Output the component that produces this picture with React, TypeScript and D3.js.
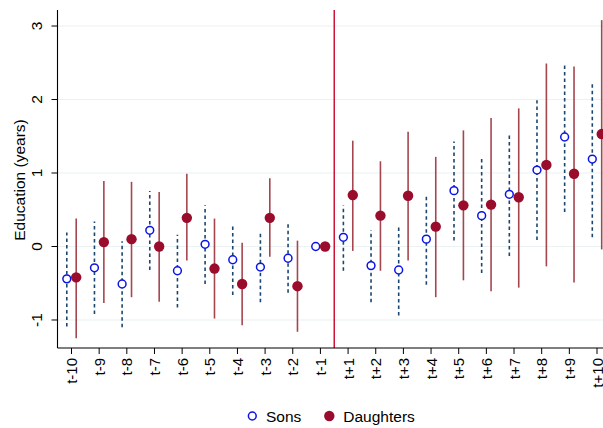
import React from "react";
import * as d3 from "d3";

const categories = [
  "t-10", "t-9", "t-8", "t-7", "t-6", "t-5", "t-4", "t-3", "t-2", "t-1",
  "t+1", "t+2", "t+3", "t+4", "t+5", "t+6", "t+7", "t+8", "t+9", "t+10",
];

// Sons: point estimate and 95% CI bounds
const sonsEst = [-0.44, -0.29, -0.51, 0.22, -0.33, 0.03, -0.18, -0.28, -0.16, 0,
  0.125, -0.26, -0.32, 0.10, 0.76, 0.42, 0.71, 1.04, 1.49, 1.19];
const sonsLo = [-1.09, -0.92, -1.10, -0.32, -0.83, -0.51, -0.66, -0.76, -0.63, 0,
  -0.33, -0.76, -0.94, -0.52, 0.08, -0.36, -0.13, 0.09, 0.47, 0.125];
const sonsHi = [0.19, 0.34, 0.07, 0.755, 0.16, 0.56, 0.30, 0.20, 0.32, 0,
  0.56, 0.22, 0.30, 0.71, 1.43, 1.19, 1.55, 1.99, 2.48, 2.23];

// Daughters: point estimate and 95% CI bounds
const dauEst = [-0.42, 0.06, 0.10, 0.0, 0.39, -0.30, -0.51, 0.39, -0.54, 0,
  0.70, 0.42, 0.69, 0.27, 0.56, 0.57, 0.67, 1.11, 0.99, 1.53];
const dauLo = [-1.25, -0.77, -0.69, -0.75, -0.19, -0.98, -1.07, -0.14, -1.16, 0,
  -0.06, -0.33, -0.19, -0.69, -0.46, -0.61, -0.56, -0.27, -0.49, -0.04];
const dauHi = [0.38, 0.89, 0.88, 0.74, 0.99, 0.38, 0.05, 0.93, 0.08, 0,
  1.44, 1.16, 1.56, 1.22, 1.58, 1.75, 1.88, 2.49, 2.45, 3.08];

const yTicks = [-1, 0, 1, 2, 3];

const W = 603;
const H = 428;
const left = 57.5;
const top = 10;
const bottom = 348;

const FONT = "'Liberation Sans', Arial, sans-serif";
const SON_LINE = "#1a476f";
const SON_MARK = "#0a14e6";
const DAU_LINE = "#a5464f";
const DAU_MARK = "#990c2c";
const REF_LINE = "#cc1439";
const GRID = "#eaf2f3";

export default function App() {
  const x = d3.scalePoint<string>().domain(categories).range([71.5, 597]);
  const y = d3.scaleLinear().domain([-1.381, 3.218]).range([bottom, top]);
  const off = 4.7;
  const refX = ((x("t-1") as number) + (x("t+1") as number)) / 2;

  return (
    <svg width={W} height={H} style={{ position: "absolute", left: 0, top: 0, background: "#fff" }}>
      <rect x={0} y={0} width={W} height={H} fill="#fff" />
      {/* gridlines */}
      {yTicks.map((t) => (
        <line key={"g" + t} x1={left} x2={W} y1={y(t)} y2={y(t)} stroke={GRID} strokeWidth={1.2} />
      ))}
      {/* reference line between t-1 and t+1 */}
      <line x1={refX} x2={refX} y1={top} y2={bottom} stroke={REF_LINE} strokeWidth={1.5} />

      {/* sons CIs */}
      {categories.map((c, i) =>
        sonsLo[i] === sonsHi[i] ? null : (
          <line key={"sl" + c} x1={(x(c) as number) - off} x2={(x(c) as number) - off}
            y1={y(sonsLo[i])} y2={y(sonsHi[i])} stroke={SON_LINE} strokeWidth={1.6} strokeDasharray="3.5,3" />
        )
      )}
      {/* daughters CIs */}
      {categories.map((c, i) =>
        dauLo[i] === dauHi[i] ? null : (
          <line key={"dl" + c} x1={(x(c) as number) + off} x2={(x(c) as number) + off}
            y1={y(dauLo[i])} y2={y(dauHi[i])} stroke={DAU_LINE} strokeWidth={1.6} />
        )
      )}
      {/* sons markers */}
      {categories.map((c, i) => (
        <circle key={"sm" + c} cx={(x(c) as number) - off} cy={y(sonsEst[i])} r={3.9}
          fill="#fff" stroke={SON_MARK} strokeWidth={1.5} />
      ))}
      {/* daughters markers */}
      {categories.map((c, i) => (
        <circle key={"dm" + c} cx={(x(c) as number) + off} cy={y(dauEst[i])} r={5.2} fill={DAU_MARK} />
      ))}

      {/* y axis */}
      <line x1={left} x2={left} y1={top} y2={bottom} stroke="#000" strokeWidth={1.1} />
      {yTicks.map((t) => (
        <g key={"yt" + t}>
          <line x1={left - 6} x2={left} y1={y(t)} y2={y(t)} stroke="#000" strokeWidth={1} />
          <text transform={`translate(42,${y(t)}) rotate(-90)`} textAnchor="middle"
            fontFamily={FONT} fontSize={15.5} fill="#000">{t}</text>
        </g>
      ))}
      <text transform={`translate(25,180) rotate(-90)`} textAnchor="middle"
        fontFamily={FONT} fontSize={15.5} fill="#000">Education (years)</text>

      {/* x axis */}
      <line x1={left} x2={W} y1={bottom} y2={bottom} stroke="#000" strokeWidth={1.1} />
      {categories.map((c) => (
        <g key={"xt" + c}>
          <line x1={x(c) as number} x2={x(c) as number} y1={bottom} y2={bottom + 6} stroke="#000" strokeWidth={1} />
          <text transform={`translate(${(x(c) as number) + 5.5},${bottom + 10}) rotate(-90)`} textAnchor="end"
            fontFamily={FONT} fontSize={15} fill="#000">{c}</text>
        </g>
      ))}

      {/* legend */}
      <circle cx={252.3} cy={416} r={3.9} fill="#fff" stroke={SON_MARK} strokeWidth={1.5} />
      <text x={266} y={421.5} fontFamily={FONT} fontSize={15.5} fill="#000">Sons</text>
      <circle cx={329.3} cy={416} r={5.2} fill={DAU_MARK} />
      <text x={343.3} y={421.5} fontFamily={FONT} fontSize={15.5} fill="#000">Daughters</text>
    </svg>
  );
}
